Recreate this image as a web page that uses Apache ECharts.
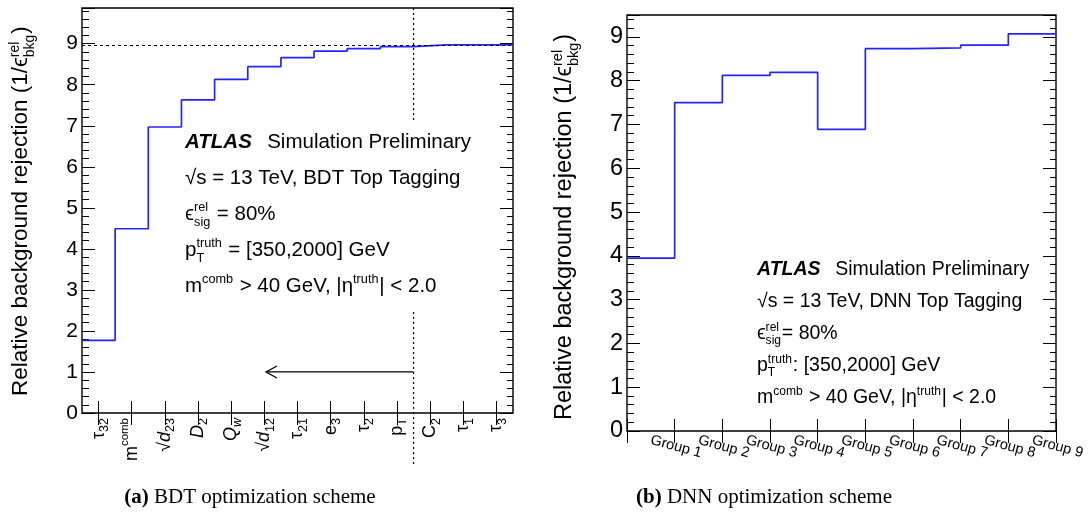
<!DOCTYPE html>
<html>
<head>
<meta charset="utf-8">
<script src="https://cdn.jsdelivr.net/npm/echarts@6/dist/echarts.min.js"></script>
<style>
  html, body { margin: 0; padding: 0; background: #fff; }
  #chart { width: 1088px; height: 520px; }
</style>
</head>
<body>
<div id="chart"></div>
<script>
// BDT: input variables in the order they are added (markup: _{} sub, ^{} sup, /x/ italic)
const bdtVariables = ['τ_{32}', 'm^{comb}', '√/d/_{23}', '/D/_{2}', '/Q/_{/w/}', '√/d/_{12}',
  'τ_{21}', 'e_{3}', 'τ_{2}', 'p_{T}', 'C_{2}', 'τ_{1}', 'τ_{3}'];
// relative background rejection after each variable is added
const bdtRejection = [1.77, 4.49, 6.97, 7.63, 8.13, 8.44, 8.66, 8.82, 8.88, 8.93, 8.97, 8.97, 8.97];
// number of variables kept in the final BDT
const bdtSelected = 10;

// DNN: groups of inputs
const dnnGroups = ['Group 1', 'Group 2', 'Group 3', 'Group 4', 'Group 5', 'Group 6', 'Group 7', 'Group 8', 'Group 9'];
const dnnRejection = [3.95, 7.50, 8.12, 8.19, 6.89, 8.73, 8.75, 8.81, 9.07];

const LEFT_Y_MAX = 9.87;
const RIGHT_Y_MAX = 9.5;

const SANS = "'Liberation Sans', Arial, Helvetica, sans-serif";
const SERIF = "'Liberation Serif', 'Times New Roman', serif";
const BLUE = '#2424ff';

// ---- rich-text axis labels ----
function toRich(name) {
  const re = /_\{([^}]*)\}|\^\{([^}]*)\}|\/([^/]*)\/|([^_^/]+)/g;
  let out = '', m;
  while ((m = re.exec(name))) {
    if (m[1] != null) {
      const it = /^\/.*\/$/.test(m[1]);
      out += '{' + (it ? 'isub' : 'sub') + '|' + (it ? m[1].slice(1, -1) : m[1]) + '}';
    } else if (m[2] != null) out += '{sup|' + m[2] + '}';
    else if (m[3] != null) out += '{it|' + m[3] + '}';
    else out += '{n|' + m[4] + '}';
  }
  return out;
}
const RICH = {
  n:    { fontSize: 18, fontFamily: SANS, color: '#000', lineHeight: 25 },
  it:   { fontSize: 18, fontFamily: SANS, fontStyle: 'italic', color: '#000', lineHeight: 25 },
  sub:  { fontSize: 12.5, fontFamily: SANS, color: '#000', lineHeight: 15, verticalAlign: 'bottom' },
  isub: { fontSize: 12.5, fontFamily: SANS, fontStyle: 'italic', color: '#000', lineHeight: 15, verticalAlign: 'bottom' },
  sup:  { fontSize: 11.5, fontFamily: SANS, color: '#000', lineHeight: 15, verticalAlign: 'top' }
};

// ---- free text with stacked super/subscripts ----
const measureCtx = document.createElement('canvas').getContext('2d');
function cssFont(size, o, family) {
  return (o.italic ? 'italic ' : '') + (o.bold ? 'bold ' : '') + size + 'px ' + (family || SANS);
}
function textWidth(str, font) { measureCtx.font = font; return measureCtx.measureText(str).width; }

// lays pieces out along a baseline at local y = 0
function layoutLine(pieces, size, family) {
  const children = [];
  let x = 0;
  const add = (str, s, dy, o) => {
    const font = cssFont(s, o, family);
    children.push({
      type: 'text', x: x, y: dy - 0.3465 * s, silent: true,
      style: { text: str, font: font, fill: '#000', align: 'left', verticalAlign: 'middle',
               textAlign: 'left', textVerticalAlign: 'middle' }
    });
    return textWidth(str, font);
  };
  for (const p of pieces) {
    if (typeof p === 'string') x += add(p, size, 0, {});
    else if (p.gap != null) x += p.gap * size;
    else if (p.sup != null || p.sub != null) {
      const s2 = size * 0.62;
      let w = 0;
      if (p.sup) w = Math.max(w, add(p.sup, s2, -0.42 * size, {}));
      if (p.sub) w = Math.max(w, add(p.sub, s2, 0.27 * size, {}));
      x += w + 0.04 * size;
    } else x += add(p.t, size, 0, p);
  }
  return { children, width: x };
}
function textBlock(lines, x, y0, dy, size) {
  return lines.map((pieces, i) => ({
    type: 'group', x: x, y: y0 + i * dy, children: layoutLine(pieces, size).children
  }));
}
function infoLines(tagger, ptSep, gapAfterScript) {
  return [
    [{ t: 'ATLAS', bold: true, italic: true }, { gap: 0.75 }, 'Simulation Preliminary'],
    ['√s = 13 TeV, ' + tagger + ' Top Tagging'],
    ['ϵ', { sup: 'rel', sub: 'sig' }, gapAfterScript + '= 80%'],
    ['p', { sup: 'truth', sub: 'T' }, ptSep + '[350,2000] GeV'],
    ['m', { sup: 'comb' }, ' > 40 GeV, |η', { sup: 'truth' }, '| < 2.0']
  ];
}
function yTitle(xBase, yBottom, size) {
  const l = layoutLine(['Relative background rejection (1/ϵ', { sup: 'rel', sub: 'bkg' }, ')'], size);
  return { type: 'group', x: xBase, y: yBottom, rotation: Math.PI / 2, children: l.children };
}
function caption(tag, text, cx, yBase, size) {
  const l = layoutLine([{ t: tag, bold: true }, text], size, SERIF);
  return { type: 'group', x: cx - l.width / 2, y: yBase, children: l.children };
}

// ---- axes ----
const tickLine = { color: '#000', width: 1 };
function yAxes(gridIndex, yMax, labelSize) {
  const mk = (pos, interval, len, showLabel) => ({
    type: 'value', gridIndex: gridIndex, position: pos, min: 0, max: yMax, interval: interval,
    axisLine: { show: false }, splitLine: { show: false },
    axisTick: { show: true, inside: true, length: len, lineStyle: tickLine },
    axisLabel: showLabel ? {
      show: true, fontSize: labelSize, fontFamily: SANS, color: '#000', margin: 4,
      formatter: v => (Math.abs(v - Math.round(v)) < 1e-6 ? String(Math.round(v)) : '')
    } : { show: false }
  });
  return [mk('left', 1, 13, true), mk('left', 0.2, 7, false), mk('right', 1, 13, false), mk('right', 0.2, 6, false)];
}
function catAxis(gridIndex, data, pos, centred, label) {
  return {
    type: 'category', gridIndex: gridIndex, position: pos, data: data, boundaryGap: true,
    axisLine: { show: false }, splitLine: { show: false },
    axisTick: { show: true, inside: true, length: 12, alignWithLabel: centred, interval: 0, lineStyle: tickLine },
    axisLabel: label || { show: false }
  };
}
function histPoints(values) {
  const pts = values.map((v, i) => [i, v]);
  pts.push([values.length, values[values.length - 1]]);
  return pts;
}

const chart = echarts.init(document.getElementById('chart'), null, { renderer: 'canvas' });
const frame = { show: true, borderColor: '#000', borderWidth: 1.4, backgroundColor: 'rgba(0,0,0,0)',
                containLabel: false, outerBoundsMode: 'none' };

chart.setOption({
  animation: false,
  backgroundColor: '#fff',
  grid: [
    Object.assign({ left: 82, top: 8, width: 431, height: 405 }, frame),
    Object.assign({ left: 627, top: 15, width: 429, height: 416 }, frame)
  ],
  xAxis: [
    { type: 'value', gridIndex: 0, min: 0, max: bdtVariables.length, show: false },
    catAxis(0, bdtVariables, 'bottom', true, {
      show: true, interval: 0, rotate: 90, margin: 5, formatter: toRich, rich: RICH
    }),
    catAxis(0, bdtVariables, 'top', true),
    { type: 'value', gridIndex: 1, min: 0, max: dnnGroups.length, show: false },
    catAxis(1, dnnGroups, 'bottom', false, {
      show: true, interval: 0, rotate: -15, margin: 9, fontSize: 14.5, fontFamily: SANS, color: '#000'
    }),
    catAxis(1, dnnGroups, 'top', false)
  ],
  yAxis: yAxes(0, LEFT_Y_MAX, 21).concat(yAxes(1, RIGHT_Y_MAX, 23.5)),
  series: [
    {
      type: 'line', xAxisIndex: 0, yAxisIndex: 0, step: 'end', symbol: 'none',
      data: histPoints(bdtRejection),
      lineStyle: { color: BLUE, width: 1.7 },
      markLine: {
        silent: true, symbol: 'none', label: { show: false },
        lineStyle: { color: '#000', width: 1.2, type: [3, 3] },
        data: [{ yAxis: bdtRejection[bdtRejection.length - 1] }]
      }
    },
    {
      // boundary of the selected variables, with the arrow pointing to them
      type: 'custom', xAxisIndex: 0, yAxisIndex: 0, clip: false, silent: true,
      data: [[bdtSelected]],
      renderItem: function (params, api) {
        const xc = api.value(0);
        const top = api.coord([xc, LEFT_Y_MAX]);
        const gapTop = api.coord([xc, 7.1]);
        const gapBottom = api.coord([xc, 2.46]);
        const below = api.coord([xc, -1.28]);
        const a0 = api.coord([xc, 1]);
        const a1 = api.coord([5.55, 1]);
        const dotted = { stroke: '#000', lineWidth: 1.2, lineDash: [2, 3] };
        const solid = { stroke: '#000', lineWidth: 1.3, fill: null };
        return {
          type: 'group', children: [
            { type: 'line', shape: { x1: top[0], y1: top[1], x2: gapTop[0], y2: gapTop[1] }, style: dotted },
            { type: 'line', shape: { x1: gapBottom[0], y1: gapBottom[1], x2: below[0], y2: below[1] }, style: dotted },
            { type: 'line', shape: { x1: a0[0], y1: a0[1], x2: a1[0], y2: a1[1] }, style: solid },
            { type: 'polyline', shape: { points: [[a1[0] + 11, a1[1] - 6], [a1[0], a1[1]], [a1[0] + 11, a1[1] + 6]] }, style: solid }
          ]
        };
      }
    },
    {
      type: 'line', xAxisIndex: 3, yAxisIndex: 4, step: 'end', symbol: 'none',
      data: histPoints(dnnRejection),
      lineStyle: { color: BLUE, width: 1.7 }
    }
  ],
  graphic: [].concat(
    textBlock(infoLines('BDT', ' = ', ' '), 185, 149, 36, 20.5),
    textBlock(infoLines('DNN', ': ', ''), 757, 276, 32, 19.5),
    [
      yTitle(29, 396, 22.5),
      yTitle(573, 420, 23.5),
      caption('(a)', ' BDT optimization scheme', 250, 505, 21),
      caption('(b)', ' DNN optimization scheme', 764, 505, 21)
    ]
  )
});
</script>
</body>
</html>
